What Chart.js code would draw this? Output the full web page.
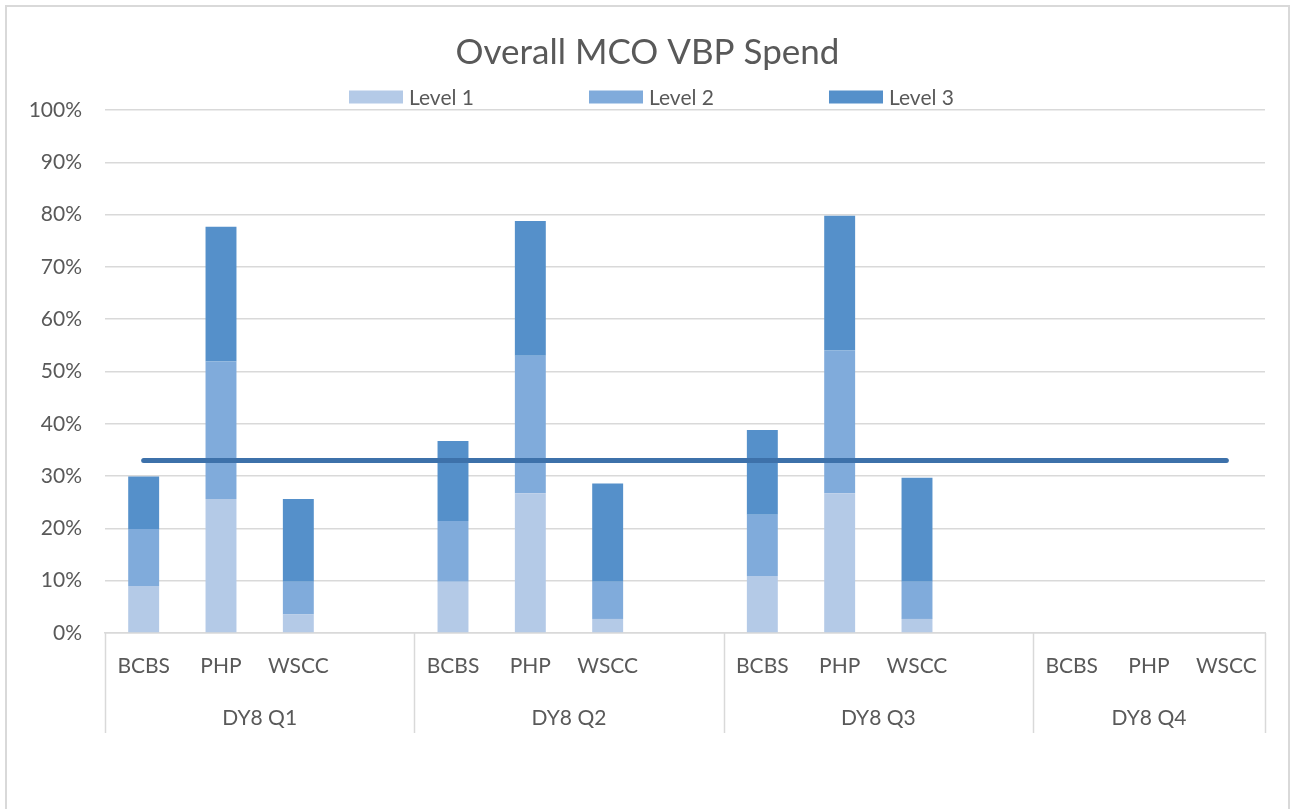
<!DOCTYPE html>
<html>
<head>
<meta charset="utf-8">
<script src="https://cdn.jsdelivr.net/npm/chart.js@4/dist/chart.umd.min.js"></script>
<style>
  html, body { margin:0; padding:0; background:#fff; overflow:hidden; }
  #frame { position:absolute; left:5px; top:5px; width:1285px; height:820px;
           border:2px solid #d9d9d9; box-sizing:border-box; }
  #wrap { position:relative; width:1281px; height:796px; }
</style>
</head>
<body>
<div id="frame"><div id="wrap"><canvas id="chart"></canvas></div></div>
<script>
// --- data ---
const categories = ['BCBS','PHP','WSCC','', 'BCBS','PHP','WSCC','', 'BCBS','PHP','WSCC','', 'BCBS','PHP','WSCC'];
const groups     = ['DY8 Q1','DY8 Q2','DY8 Q3','DY8 Q4'];
const groupSizes = [4, 4, 4, 3];

const level1 = [9,    25.6, 3.6,  null, 9.8,  26.7, 2.7,  null, 10.9, 26.7, 2.7,  null, null, null, null];
const level2 = [10.9, 26.3, 6.2,  null, 11.6, 26.3, 7.1,  null, 11.7, 27.3, 7.1,  null, null, null, null];
const level3 = [10,   25.8, 15.8, null, 15.3, 25.8, 18.8, null, 16.2, 25.8, 19.9, null, null, null, null];
const target = [33, 33, 33, 33, 33, 33, 33, 33, 33, 33, 33, 33, 33, 33, 33];

const yTicks = [0, 10, 20, 30, 40, 50, 60, 70, 80, 90, 100];

const FONT = 'Lato, "Open Sans", sans-serif';
const TXT = '#595959';
const GRID = '#d9d9d9';

// legend drawn by hand so items can sit far apart like the original
const legendPlugin = {
  id: 'wideLegend',
  afterDraw(chart){
    const ctx = chart.ctx;
    const items = chart.data.datasets.filter(d => d.type !== 'line');
    const boxW = 54, boxH = 13, gap = 6, step = 240;
    ctx.save();
    ctx.font = '21px ' + FONT;
    const lastW = ctx.measureText(items[items.length-1].label).width;
    const total = step*(items.length-1) + boxW + gap + lastW;
    let x = (chart.width - total)/2 + 4;
    const y = 90;
    items.forEach(d => {
      ctx.fillStyle = d.backgroundColor;
      ctx.fillRect(x, y - boxH/2, boxW, boxH);
      ctx.fillStyle = TXT;
      ctx.textBaseline = 'middle';
      ctx.textAlign = 'left';
      ctx.fillText(d.label, x + boxW + gap, y + 1);
      x += step;
    });
    ctx.restore();
  }
};

// second row of the category axis: group names and separators
const groupAxisPlugin = {
  id: 'groupAxis',
  afterDraw(chart){
    const ctx = chart.ctx, xs = chart.scales.x;
    const half = (xs.getPixelForValue(1) - xs.getPixelForValue(0))/2;
    const top = chart.chartArea.bottom, bottom = top + 100;
    ctx.save();
    ctx.strokeStyle = GRID; ctx.lineWidth = 1.5;
    let start = 0;
    const edges = [];
    groupSizes.forEach((n, g) => {
      const left = xs.getPixelForValue(start) - half;
      const right = xs.getPixelForValue(start + n - 1) + half;
      edges.push(left);
      if (g === groupSizes.length-1) edges.push(right);
      ctx.fillStyle = TXT;
      ctx.font = '21px ' + FONT;
      ctx.textAlign = 'center';
      ctx.textBaseline = 'middle';
      ctx.fillText(groups[g], (left+right)/2, top + 85);
      start += n;
    });
    edges.forEach(x => {
      ctx.beginPath();
      ctx.moveTo(Math.round(x)+0.5, top);
      ctx.lineTo(Math.round(x)+0.5, bottom);
      ctx.stroke();
    });
    ctx.restore();
  }
};

new Chart(document.getElementById('chart'), {
  data: {
    labels: categories,
    datasets: [
      { type:'line', label:'Target', data:target, stack:'target', order:0,
        borderColor:'#3d71aa', borderWidth:5, borderCapStyle:'round',
        pointRadius:0, fill:false },
      { type:'bar', label:'Level 1', data:level1, backgroundColor:'#b4cae7', order:1 },
      { type:'bar', label:'Level 2', data:level2, backgroundColor:'#80abdb', order:1 },
      { type:'bar', label:'Level 3', data:level3, backgroundColor:'#5590ca', order:1 }
    ]
  },
  options: {
    responsive:true,
    maintainAspectRatio:false,
    animation:false,
    layout:{ padding:{ left:23, right:23, top:0, bottom:0 } },
    datasets:{ bar:{ categoryPercentage:1, barPercentage:0.4 } },
    plugins:{
      legend:{ display:false },
      tooltip:{ enabled:false },
      title:{
        display:true,
        text:'Overall MCO VBP Spend',
        color:TXT,
        font:{ family:FONT, size:35, weight:'normal' },
        padding:{ top:25, bottom:36 }
      }
    },
    scales:{
      x:{
        stacked:true,
        grid:{ display:false },
        border:{ color:GRID, width:1.5 },
        ticks:{ color:TXT, font:{ family:FONT, size:21 }, autoSkip:false, maxRotation:0, padding:13 },
        afterFit(s){ s.height = 170; }
      },
      y:{
        stacked:true,
        min:0, max:100,
        afterBuildTicks(s){ s.ticks = yTicks.map(v => ({ value:v })); },
        grid:{ color:GRID, lineWidth:1.5, drawTicks:false },
        border:{ display:false },
        ticks:{ color:TXT, font:{ family:FONT, size:21 }, padding:23, callback:v => v + '%' },
        afterFit(s){ s.width = 75; }
      }
    }
  },
  plugins:[legendPlugin, groupAxisPlugin]
});
</script>
</body>
</html>
